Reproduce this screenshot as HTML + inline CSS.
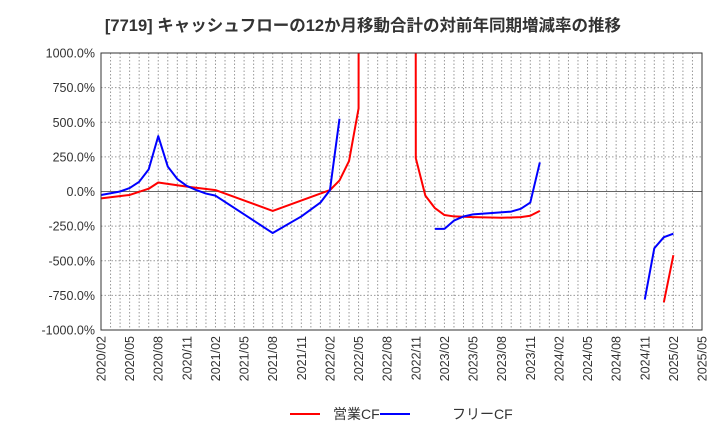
<!DOCTYPE html>
<html><head><meta charset="utf-8"><style>
body{margin:0;background:#fff;font-family:"Liberation Sans","Noto Sans CJK JP",sans-serif;}
svg text{font-family:"Liberation Sans","Noto Sans CJK JP",sans-serif;}
</style></head><body>
<svg id="c" width="720" height="440" xmlns="http://www.w3.org/2000/svg">
<text x="363" y="31" text-anchor="middle" font-size="16.5" font-weight="bold" fill="#333">[7719]  キャッシュフローの12か月移動合計の対前年同期増減率の推移</text>
<defs><clipPath id="pc"><rect x="101" y="53" width="601" height="277"/></clipPath></defs>
<g id="grid"></g><g id="series" clip-path="url(#pc)"></g><g id="axes"></g>
<g>
<line x1="290" y1="414" x2="320" y2="414" stroke="#f00" stroke-width="2"/>
<text x="333" y="419" font-size="14" fill="#333">営業CF</text>
<line x1="380" y1="414" x2="410" y2="414" stroke="#00f" stroke-width="2"/>
<text x="452" y="419" font-size="14" fill="#333">フリーCF</text>
</g>
</svg>
<script>
const yTicks=[1000,750,500,250,0,-250,-500,-750,-1000];
const xLabels=["2020/02","2020/05","2020/08","2020/11","2021/02","2021/05","2021/08","2021/11","2022/02","2022/05","2022/08","2022/11","2023/02","2023/05","2023/08","2023/11","2024/02","2024/05","2024/08","2024/11","2025/02","2025/05"];
const opIdx=[0,3,5,6,9,12,18,24,25,26,27,28,32,33,34,35,36,37,39,42,44,45,46,null,59,60];
const opVal=[-50,-25,20,65,35,10,-140,10,80,220,600,100000,100000,240,-30,-120,-170,-180,-185,-190,-185,-175,-140,null,-800,-460];
const fcIdx=[0,2,3,4,5,6,7,8,9,10,11,12,18,21,23,24,25,null,35,36,37,38,39,41,43,44,45,46,null,57,58,59,60];
const fcVal=[-25,0,25,70,160,400,180,90,40,10,-15,-30,-300,-180,-80,10,525,null,-270,-270,-210,-180,-165,-155,-145,-125,-80,210,null,-780,-410,-330,-305];
const X0=101,X1=702,Y0=53,Y1=330,NM=63;
const xs=i=>X0+(X1-X0)*i/NM;
const ys=v=>Y0+(1000-v)/2000*(Y1-Y0);
const NS="http://www.w3.org/2000/svg";
function mk(t,a,p){const e=document.createElementNS(NS,t);for(const k in a)e.setAttribute(k,a[k]);p.appendChild(e);return e;}
const g=document.getElementById('grid'),ax=document.getElementById('axes'),s=document.getElementById('series');
for(let m=1;m<NM;m++){const l=mk('line',{x1:xs(m),x2:xs(m),y1:Y0,y2:Y1,stroke:'#999','stroke-dasharray':'1.5,2','stroke-width':1},g);

}
yTicks.forEach(v=>{const l=mk('line',{x1:X0,x2:X1,y1:ys(v),y2:ys(v),stroke:v===0?'#666':'#999','stroke-dasharray':v===0?'':'1.5,2','stroke-width':1},g);


const t=mk('text',{x:X0-6,y:ys(v)+4.5,'text-anchor':'end','font-size':12.5,fill:'#333'},ax);
t.textContent=v.toFixed(1)+'%';

});
xLabels.forEach((lab,i)=>{const x=xs(i*3);const t=mk('text',{transform:`translate(${x+4.5},${Y1+6}) rotate(-90)`,'text-anchor':'end','font-size':12.5,fill:'#333'},ax);
t.textContent=lab;

});
const fr=mk('rect',{x:X0,y:Y0,width:X1-X0,height:Y1-Y0,fill:'none',stroke:'#333','stroke-width':1},ax);


function draw(idx,val,color,name){let d='',pen=false;
for(let k=0;k<idx.length;k++){if(idx[k]===null){pen=false;continue;}
d+=(pen?'L':'M')+xs(idx[k]).toFixed(2)+','+ys(val[k]).toFixed(2);pen=true;}
const p=mk('path',{d:d,fill:'none',stroke:color,'stroke-width':2,'stroke-linejoin':'round'},s);

}
draw(opIdx,opVal,'#f00','operating-cf-line');
draw(fcIdx,fcVal,'#00f','free-cf-line');
</script>
</body></html>
